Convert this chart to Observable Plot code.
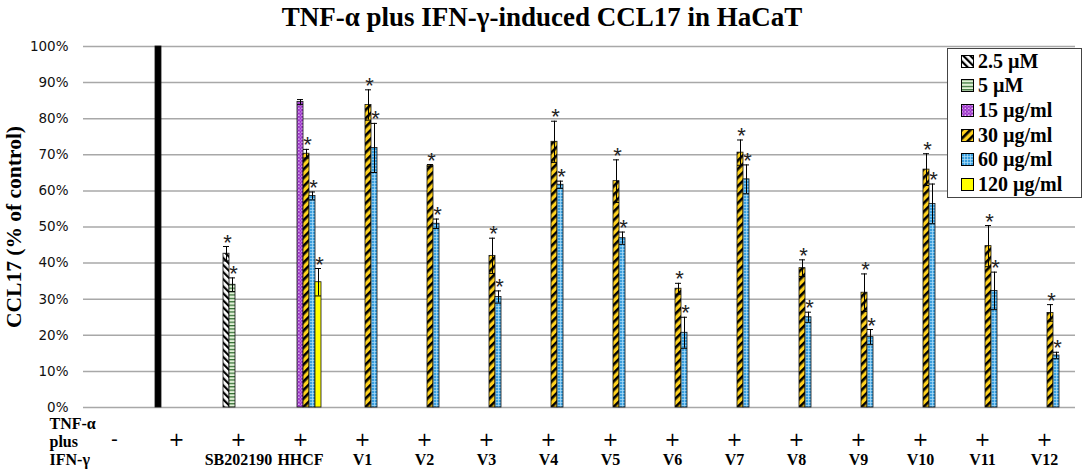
<!DOCTYPE html>
<html>
<head>
<meta charset="utf-8">
<script src="https://cdn.jsdelivr.net/npm/d3@7"></script>
<script src="https://cdn.jsdelivr.net/npm/@observablehq/plot@0.6"></script>
<style>
  body { margin: 0; background: #fff; width: 1084px; height: 474px; position: relative; overflow: hidden; }
  #title { height: 36px; text-align: center; font: bold 27px "Liberation Serif", serif; line-height: 34px; color: #000; }
  #legend { position: absolute; left: 947px; top: 48px; width: 135px; height: 150px; border: 1.5px solid #444;
            background: #fff; box-sizing: border-box; padding-top: 0px; }
  #legend .row { height: 24.6px; display: flex; align-items: center; padding-left: 13px;
                 font: bold 20px "Liberation Serif", serif; color: #000; }
  #legend svg { margin-right: 4px; }
</style>
</head>
<body>
<svg width="0" height="0" style="position:absolute">
  <defs>
    <pattern id="p25" patternUnits="userSpaceOnUse" width="5" height="5" patternTransform="rotate(-45)">
      <rect width="5" height="5" fill="#fff"/><rect width="2.2" height="5" fill="#000"/>
    </pattern>
    <pattern id="p5" patternUnits="userSpaceOnUse" width="4" height="3.4">
      <rect width="4" height="3.4" fill="#e2f2d8"/><rect width="4" height="1.2" fill="#2d6a2d"/>
    </pattern>
    <pattern id="p15" patternUnits="userSpaceOnUse" width="3.4" height="3.4">
      <rect width="3.4" height="3.4" fill="#9a2fc6"/><circle cx="1" cy="1" r="0.8" fill="#f3dcff"/><circle cx="2.7" cy="2.6" r="0.6" fill="#e6bfff"/>
    </pattern>
    <pattern id="p30" patternUnits="userSpaceOnUse" width="6" height="6" patternTransform="rotate(45)">
      <rect width="6" height="6" fill="#ffd21f"/><rect width="2.6" height="6" fill="#000"/>
    </pattern>
    <pattern id="p60" patternUnits="userSpaceOnUse" width="3" height="3">
      <rect width="3" height="3" fill="#3a9fde"/><rect width="3" height="0.7" fill="#b0e0fa"/><rect width="0.7" height="3" fill="#b0e0fa"/>
    </pattern>
  </defs>
</svg>
<div id="title">TNF-α plus IFN-γ-induced CCL17 in HaCaT</div>
<div id="chart"></div>
<div id="legend"></div>
<script>
// ---------- data ----------
const categories = ["none", "ctrl", "SB202190", "HHCF", "V1", "V2", "V3", "V4", "V5", "V6", "V7", "V8", "V9", "V10", "V11", "V12"];
const signRow = ["-", "+", "+", "+", "+", "+", "+", "+", "+", "+", "+", "+", "+", "+", "+", "+"];
const nameRow = ["", "", "SB202190", "HHCF", "V1", "V2", "V3", "V4", "V5", "V6", "V7", "V8", "V9", "V10", "V11", "V12"];
const tableRowLabels = ["TNF-α", "plus", "IFN-γ"];

const seriesNames = ["control", "2.5 µM", "5 µM", "15 µg/ml", "30 µg/ml", "60 µg/ml", "120 µg/ml"];
const seriesFills = ["#000", "url(#p25)", "url(#p5)", "url(#p15)", "url(#p30)", "url(#p60)", "#ffff00"];
const legendSeries = ["2.5 µM", "5 µM", "15 µg/ml", "30 µg/ml", "60 µg/ml", "120 µg/ml"];

const controlValue = 100;

const sbSeries = ["2.5 µM", "5 µM"];
const sbValues = [42.6, 34.0];
const sbErrors = [2.0, 1.9];

const hhcfSeries = ["15 µg/ml", "30 µg/ml", "60 µg/ml", "120 µg/ml"];
const hhcfValues = [84.6, 70.3, 58.6, 34.7];
const hhcfErrors = [0.7, 1.2, 1.1, 3.8];
const hhcfStars = [false, true, true, true];

const vGroups = ["V1", "V2", "V3", "V4", "V5", "V6", "V7", "V8", "V9", "V10", "V11", "V12"];
const v30Values = [83.8, 67.0, 42.0, 73.6, 62.7, 32.9, 70.6, 38.6, 31.8, 65.9, 44.7, 26.2];
const v30Errors = [4.2, 0.3, 4.9, 5.7, 5.9, 1.5, 3.5, 2.3, 5.2, 4.4, 5.7, 2.3];
const v60Values = [71.9, 50.9, 30.6, 61.7, 46.9, 20.7, 63.2, 25.0, 19.5, 56.4, 32.3, 14.4];
const v60Errors = [6.8, 1.3, 1.7, 1.0, 1.7, 4.3, 4.0, 1.4, 2.1, 5.5, 5.2, 0.9];

const yTicks = [0, 10, 20, 30, 40, 50, 60, 70, 80, 90, 100];
const yLabel = "CCL17 (% of control)";

// ---------- rows ----------
const rows = [];
rows.push({cat: "ctrl", series: "control", value: controlValue, err: 0, star: false});
sbSeries.forEach((s, i) => rows.push({cat: "SB202190", series: s, value: sbValues[i], err: sbErrors[i], star: true}));
hhcfSeries.forEach((s, i) => rows.push({cat: "HHCF", series: s, value: hhcfValues[i], err: hhcfErrors[i], star: hhcfStars[i]}));
vGroups.forEach((g, i) => {
  rows.push({cat: g, series: "30 µg/ml", value: v30Values[i], err: v30Errors[i], star: true});
  rows.push({cat: g, series: "60 µg/ml", value: v60Values[i], err: v60Errors[i], star: true});
});
const errRows = rows.filter(d => d.err > 0);
const starRows = rows.filter(d => d.star);

const serif = "Liberation Serif";

const chart = Plot.plot({
  width: 1084,
  height: 438,
  marginTop: 10,
  marginBottom: 67,
  marginLeft: 80,
  marginRight: 6,
  style: {fontFamily: "DejaVu Sans", fontSize: "13.5px", color: "#111", background: "transparent", overflow: "visible"},
  fx: {domain: categories, padding: 0, axis: null},
  x: {domain: seriesNames, paddingInner: 0, paddingOuter: 1.53, axis: null},
  y: {domain: [0, 100], ticks: 10, tickFormat: d => d + "%", tickSize: 0, tickPadding: 15, label: null},
  color: {domain: seriesNames, range: seriesFills},
  marks: [
    Plot.ruleY(yTicks, {stroke: "#a8a8a8", strokeWidth: 1.5}),
    Plot.barY(rows, {fx: "cat", x: "series", y: "value", fill: "series", stroke: "#111", strokeWidth: 0.8}),
    Plot.ruleX(errRows, {fx: "cat", x: "series", y1: d => d.value - d.err, y2: d => d.value + d.err, stroke: "#000", strokeWidth: 1}),
    Plot.tickY(errRows, {fx: "cat", x: "series", y: d => d.value + d.err, stroke: "#000", strokeWidth: 1}),
    Plot.tickY(errRows, {fx: "cat", x: "series", y: d => d.value - d.err, stroke: "#000", strokeWidth: 1}),
    Plot.text(starRows, {fx: "cat", x: "series", y: d => d.value + d.err, text: () => "*", lineAnchor: "middle",
      dy: -4, dx: 1, fontSize: 22, fontFamily: "Liberation Sans", fill: "#222"}),
    Plot.text(categories, {fx: d => d, text: (d, i) => signRow[i], frameAnchor: "bottom", dy: 38,
      fontSize: 19, fontFamily: "DejaVu Sans", fill: "#000"}),
    Plot.text(categories, {fx: d => d, text: (d, i) => nameRow[i], frameAnchor: "bottom", dy: 57,
      fontSize: 16, fontWeight: "bold", fontFamily: serif, fill: "#000"}),
    Plot.text([tableRowLabels[0]], {fx: () => "none", text: d => d, frameAnchor: "bottom-left", textAnchor: "start",
      dx: -34, dy: 21, fontSize: 16, fontWeight: "bold", fontFamily: serif, fill: "#000"}),
    Plot.text([tableRowLabels[1]], {fx: () => "none", text: d => d, frameAnchor: "bottom-left", textAnchor: "start",
      dx: -34, dy: 39, fontSize: 16, fontWeight: "bold", fontFamily: serif, fill: "#000"}),
    Plot.text([tableRowLabels[2]], {fx: () => "none", text: d => d, frameAnchor: "bottom-left", textAnchor: "start",
      dx: -34, dy: 57, fontSize: 16, fontWeight: "bold", fontFamily: serif, fill: "#000"}),
    Plot.text([yLabel], {fx: () => "none", text: d => d, frameAnchor: "left", textAnchor: "middle", rotate: -90, dx: -69,
      fontSize: 21.5, fontWeight: "bold", fontFamily: serif, fill: "#000"})
  ]
});
document.getElementById("chart").appendChild(chart);

// ---------- legend ----------
const legend = d3.select("#legend");
legendSeries.forEach(s => {
  const row = legend.append("div").attr("class", "row");
  const sw = row.append("svg").attr("width", 13).attr("height", 13);
  sw.append("rect").attr("x", 0.5).attr("y", 0.5).attr("width", 12).attr("height", 12)
    .attr("fill", seriesFills[seriesNames.indexOf(s)]).attr("stroke", "#000").attr("stroke-width", 1);
  row.append("span").text(s);
});
</script>
</body>
</html>
